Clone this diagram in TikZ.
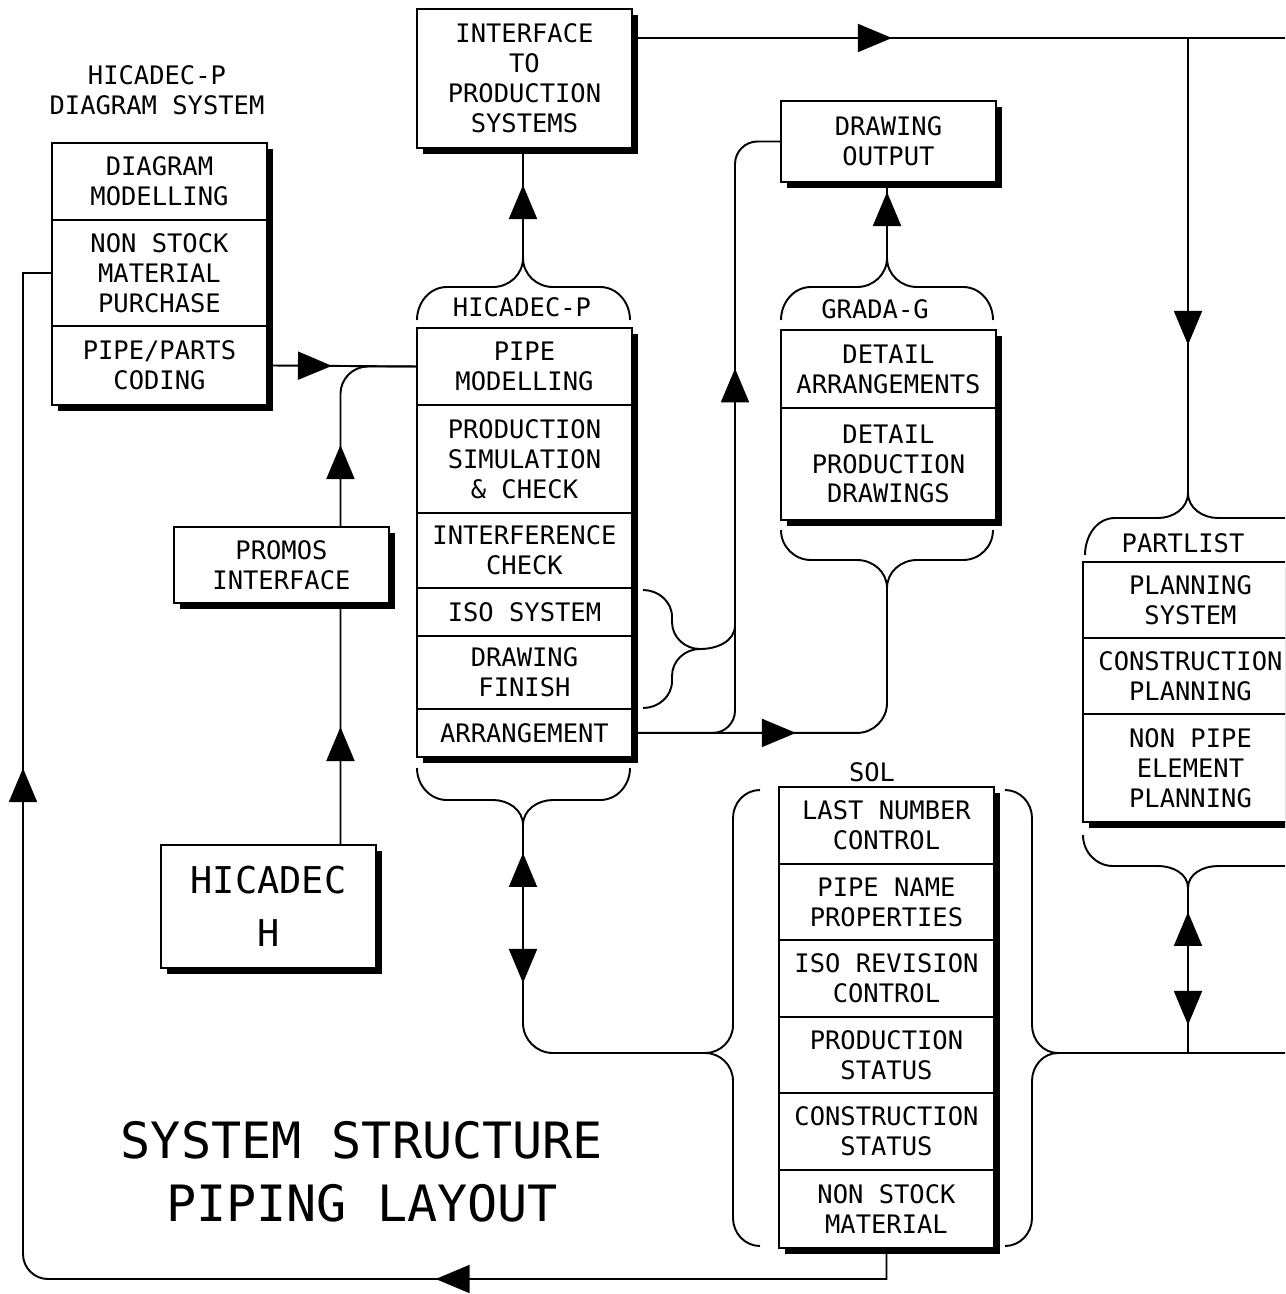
\documentclass[tikz,border=0pt]{standalone}
\usepackage{fontspec}
\newfontfamily\plotfont{DejaVu Sans Mono}
\usetikzlibrary{positioning,arrows.meta,decorations.markings,shadows}

% braces: {from}{to}{tip pos}{end}{run}{tip}{radius}
\newcommand\bracetipup[7]{%
  \draw[bracepath] (#1,#4) to[out=90,in=180] ({#1+#7},#5) -- ({#3-#7},#5)
    to[out=0,in=-90] (#3,#6) to[out=-90,in=180] ({#3+#7},#5)
    -- ({#2-#7},#5) to[out=0,in=90] (#2,#4);}
\newcommand\bracetipdown[7]{%
  \draw[bracepath] (#1,#4) to[out=-90,in=180] ({#1+#7},#5) -- ({#3-#7},#5)
    to[out=0,in=90] (#3,#6) to[out=90,in=180] ({#3+#7},#5)
    -- ({#2-#7},#5) to[out=0,in=-90] (#2,#4);}
\newcommand\bracetipright[7]{%
  \draw[bracepath] (#4,#1) to[out=0,in=90] (#5,{#1+#7}) -- (#5,{#3-#7})
    to[out=-90,in=180] (#6,#3) to[out=180,in=90] (#5,{#3+#7})
    -- (#5,{#2-#7}) to[out=-90,in=0] (#4,#2);}
\newcommand\bracetipleft[7]{%
  \draw[bracepath] (#4,#1) to[out=180,in=90] (#5,{#1+#7}) -- (#5,{#3-#7})
    to[out=-90,in=0] (#6,#3) to[out=0,in=90] (#5,{#3+#7})
    -- (#5,{#2-#7}) to[out=-90,in=180] (#4,#2);}

\tikzset{
  plotarrow/.tip={Triangle[length=0.68cm,width=0.56cm]},
  cell/.style={draw, fill=white, line width=1.1pt, inner sep=0pt, outer sep=0pt,
    minimum width=4.3cm, align=center,
    font=\plotfont\fontsize{14.5}{17}\selectfont,
    drop shadow={shadow xshift=0.12cm, shadow yshift=-0.12cm, fill=black, opacity=1}},
  lbl/.style={font=\plotfont\fontsize{14.5}{17}\selectfont, align=center, inner sep=0pt},
  flow/.style={line width=1.1pt},
  bracepath/.style={line width=1.1pt},
  tipat/.style={postaction={decorate,decoration={markings,
    mark=at position #1 with {\arrow{plotarrow}}}}},
  backtipat/.style={postaction={decorate,decoration={markings,
    mark=at position #1 with {\arrowreversed{plotarrow}}}}},
}

\begin{document}
\begin{tikzpicture}[x={(0.02cm,0)}, y={(0,-0.02cm)}]
  \useasboundingbox (0,0) rectangle (1285,1294);
  \clip (0,0) rectangle (1285,1294);

  % HICADEC-P diagram system
  \node[lbl] (dsys-title) at (157,90) {HICADEC-P\\DIAGRAM SYSTEM};
  \node[cell, minimum height=1.54cm, anchor=north west] (dsys-model) at (52,143) {DIAGRAM\\MODELLING};
  \node[cell, minimum height=2.12cm, below=0pt of dsys-model] (dsys-nsm) {NON STOCK\\MATERIAL\\PURCHASE};
  \node[cell, minimum height=1.58cm, below=0pt of dsys-nsm] (dsys-code) {PIPE/PARTS\\CODING};

  \node[cell, minimum height=2.78cm, anchor=north west] (iface) at (417,9) {INTERFACE\\TO\\PRODUCTION\\SYSTEMS};

  % HICADEC-P
  \node[lbl] (hp-label) at (522,307) {HICADEC-P};
  \node[cell, minimum height=1.54cm, anchor=north west] (hp-pipe) at (417,328) {PIPE\\MODELLING};
  \node[cell, minimum height=2.16cm, below=0pt of hp-pipe] (hp-prod) {PRODUCTION\\SIMULATION\\\& CHECK};
  \node[cell, minimum height=1.5cm, below=0pt of hp-prod] (hp-intf) {INTERFERENCE\\CHECK};
  \node[cell, minimum height=0.96cm, below=0pt of hp-intf] (hp-iso) {ISO SYSTEM};
  \node[cell, minimum height=1.46cm, below=0pt of hp-iso] (hp-dfin) {DRAWING\\FINISH};
  \node[cell, minimum height=0.96cm, below=0pt of hp-dfin] (hp-arr) {ARRANGEMENT};

  \node[cell, minimum height=1.62cm, anchor=north west] (dout) at (781,101) {DRAWING\\OUTPUT};

  % GRADA-G
  \node[lbl] (grada-label) at (875,309) {GRADA-G};
  \node[cell, minimum height=1.56cm, anchor=north west] (grada-arr) at (781,330) {DETAIL\\ARRANGEMENTS};
  \node[cell, minimum height=2.24cm, below=0pt of grada-arr] (grada-prod) {DETAIL\\PRODUCTION\\DRAWINGS};

  \node[cell, minimum height=1.52cm, anchor=north west] (promos) at (174,527) {PROMOS\\INTERFACE};
  \node[cell, minimum height=2.46cm, anchor=north west,
    font=\plotfont\fontsize{21}{30}\selectfont] (hich) at (161,845) {HICADEC\\H};

  % SOL
  \node[lbl] (sol-label) at (872,772) {SOL};
  \node[cell, minimum height=1.54cm, anchor=north west] (sol-lnc) at (779,787) {LAST NUMBER\\CONTROL};
  \node[cell, minimum height=1.52cm, below=0pt of sol-lnc] (sol-pnp) {PIPE NAME\\PROPERTIES};
  \node[cell, minimum height=1.54cm, below=0pt of sol-pnp] (sol-irc) {ISO REVISION\\CONTROL};
  \node[cell, minimum height=1.52cm, below=0pt of sol-irc] (sol-pst) {PRODUCTION\\STATUS};
  \node[cell, minimum height=1.54cm, below=0pt of sol-pst] (sol-cst) {CONSTRUCTION\\STATUS};
  \node[cell, minimum height=1.56cm, below=0pt of sol-cst] (sol-nsm) {NON STOCK\\MATERIAL};

  % PARTLIST
  \node[lbl] (pl-label) at (1183,543) {PARTLIST};
  \node[cell, minimum height=1.52cm, anchor=north west] (pl-plan) at (1083,562) {PLANNING\\SYSTEM};
  \node[cell, minimum height=1.52cm, below=0pt of pl-plan] (pl-cons) {CONSTRUCTION\\PLANNING};
  \node[cell, minimum height=2.16cm, below=0pt of pl-cons] (pl-npe) {NON PIPE\\ELEMENT\\PLANNING};

  \node[font=\plotfont\fontsize{28.5}{36}\selectfont, align=center] (title) at (362,1172)
    {SYSTEM STRUCTURE\\PIPING LAYOUT};

  % braces
  \bracetipup{417}{630}{523}{320}{287}{258}{30}
  \bracetipdown{417}{630}{523}{768}{800}{825}{30}
  \bracetipup{781}{993}{887}{320}{287}{258}{30}
  \bracetipdown{781}{993}{887}{530}{560}{588}{30}
  \bracetipright{590}{708}{649}{643}{672}{700}{27}
  \bracetipleft{790}{1246}{1053}{760}{733}{705}{28}
  \bracetipright{790}{1246}{1053}{1005}{1032}{1058}{28}
  \bracetipup{1085}{1330}{1188}{555}{518}{493}{30}
  \bracetipdown{1083}{1330}{1188}{835}{866}{888}{30}

  \coordinate (hp-top) at (523,258);
  \coordinate (hp-bot) at (523,825);
  \coordinate (grada-top) at (887,258);
  \coordinate (grada-bot) at (887,588);
  \coordinate (iso-tip) at (700,649);
  \coordinate (iso-join) at (735,625);
  \coordinate (sol-ltip) at (705,1053);
  \coordinate (sol-rtip) at (1058,1053);
  \coordinate (pl-top) at (1188,493);
  \coordinate (pl-bot) at (1188,888);
  \coordinate (east-top) at (1300,38);
  \coordinate (east-mid) at (1300,1053);
  \coordinate (arr-branch) at (700,733);
  \coordinate (loop-sw) at (23,1279);

  % connectors
  \draw[flow, tipat=1.3cm] (dsys-code.east) -- (hp-pipe.west);
  \draw[flow, rounded corners=0.55cm, tipat=1.64cm] ([xshift=1.18cm]promos.north) |- (hp-pipe.west);
  \draw[flow, tipat=2.36cm] ([xshift=1.44cm]hich.north) -- ([xshift=1.18cm]promos.south);
  \draw[flow, tipat=1.46cm] (hp-top) -- (hp-top |- iface.south);
  \draw[flow, tipat=5.2cm] ([yshift=-0.58cm]iface.north east) -- (east-top);
  \draw[flow, tipat=6.14cm] (pl-top |- east-top) -- (pl-top);
  \draw[flow, tipat=1.32cm] (grada-top) -- (grada-top |- dout.south);
  \draw[flow, rounded corners=0.6cm, tipat=3.28cm] (hp-arr.east) -| (grada-bot);
  \draw[flow, rounded corners=0.45cm, tipat=7.8cm] (arr-branch) -| ([xshift=-0.92cm]dout.west) -- (dout.west);
  \draw[flow] (iso-tip) to[out=0,in=-90] (iso-join);
  \draw[flow, rounded corners=0.6cm, backtipat=0.56cm, tipat=3.16cm] (hp-bot) |- (sol-ltip);
  \draw[flow, backtipat=0.48cm, tipat=2.74cm] (pl-bot) -- (pl-bot |- sol-rtip);
  \draw[flow] (sol-rtip) -- (east-mid);
  \draw[flow, tipat=9.64cm, tipat=27.9cm] (sol-nsm.south) -- (sol-nsm.south |- loop-sw)
    [rounded corners=0.5cm] -- (loop-sw) [sharp corners] -- (loop-sw |- dsys-nsm.west)
    -- (dsys-nsm.west);
\end{tikzpicture}
\end{document}
